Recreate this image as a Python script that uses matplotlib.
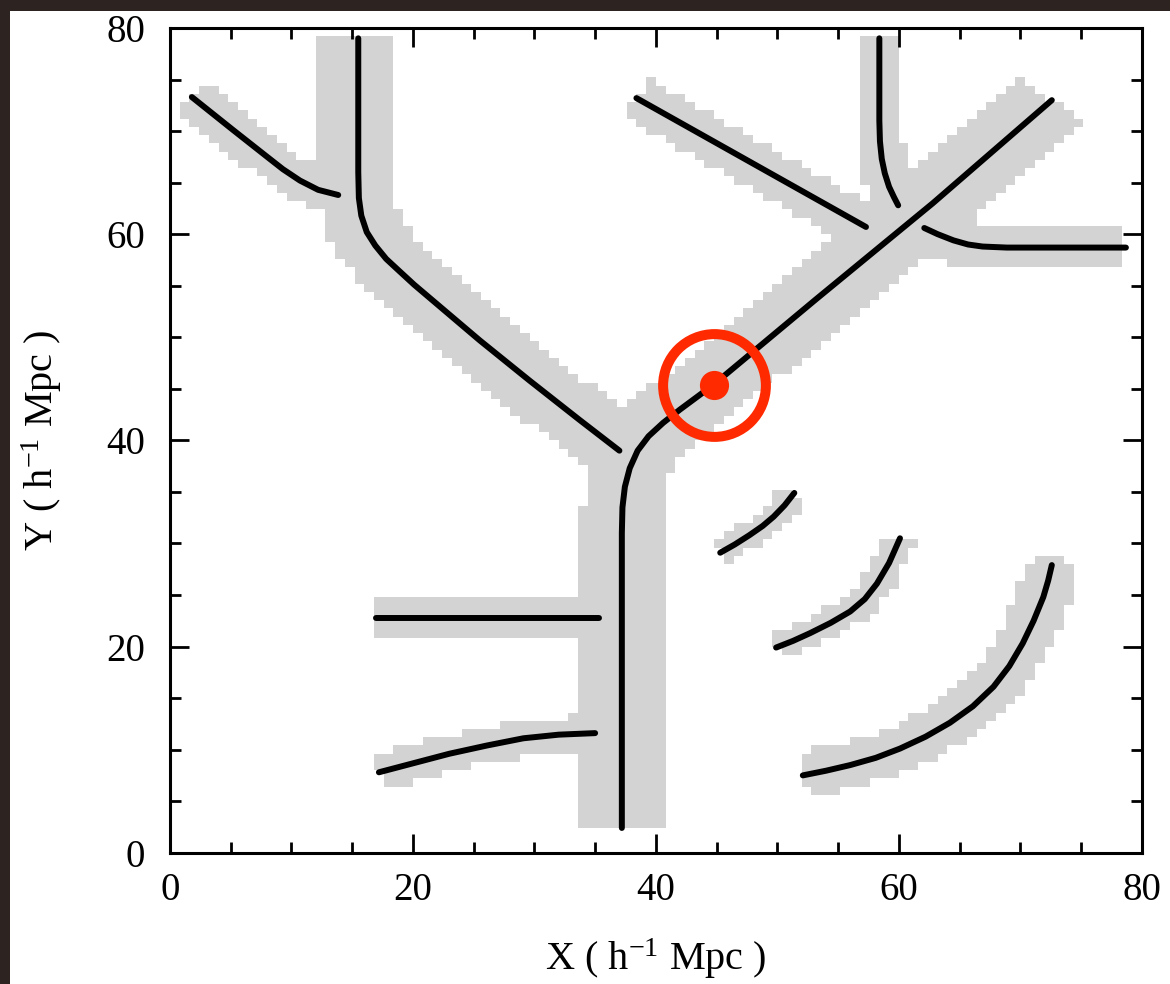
import numpy as np
import matplotlib.pyplot as plt
from matplotlib.colors import ListedColormap
from matplotlib.patches import Rectangle

# filament spines, (X, Y) in h^-1 Mpc
TOP_LEFT = [(1.8, 73.3), (3.5, 71.7), (5.2, 70.1), (6.6, 68.8), (8.0, 67.5),
            (9.3, 66.3), (10.7, 65.2), (12.2, 64.3), (13.85, 63.8)]
LEFT_BRANCH = [(15.5, 79.0), (15.5, 66.0), (15.55, 63.5), (15.75, 61.8), (16.2, 60.2),
               (16.9, 58.9), (17.8, 57.6), (18.9, 56.4), (20.1, 55.1), (21.4, 53.8),
               (25.5, 49.7), (29.6, 45.8), (33.7, 42.0), (37.0, 39.0)]
MAIN = [(37.2, 2.4), (37.2, 31.0), (37.25, 33.5), (37.45, 35.5), (37.85, 37.3),
        (38.5, 39.0), (39.4, 40.4), (40.6, 41.7), (42.0, 43.0), (44.75, 45.4),
        (53.2, 53.7), (62.8, 63.0), (72.6, 73.0)]
TOP_MID = [(38.4, 73.2), (57.3, 60.7)]
TOP_RIGHT = [(58.4, 79.0), (58.4, 71.0), (58.45, 69.0), (58.6, 67.3), (58.85, 65.9),
             (59.2, 64.6), (59.6, 63.6), (59.95, 62.8)]
RIGHT = [(62.1, 60.6), (63.2, 60.0), (64.5, 59.4), (65.7, 59.0), (66.9, 58.8),
         (68.9, 58.7), (78.7, 58.7)]
ARC_SMALL = [(45.3, 29.1), (46.5, 29.9), (47.7, 30.8), (48.8, 31.7), (49.7, 32.6),
             (50.6, 33.7), (51.4, 34.9)]
ARC_MID = [(49.9, 19.9), (51.3, 20.55), (52.7, 21.3), (54.4, 22.3), (56.0, 23.4),
           (57.2, 24.6), (58.2, 26.1), (59.2, 28.1), (60.1, 30.5)]
ARC_BIG = [(52.1, 7.5), (54.0, 7.95), (56.0, 8.5), (58.1, 9.2), (60.1, 10.1),
           (62.2, 11.25), (64.2, 12.6), (66.1, 14.2), (67.8, 16.1), (69.1, 18.1),
           (70.2, 20.3), (71.1, 22.5), (71.9, 24.8), (72.3, 26.4), (72.6, 27.9)]
HORIZ = [(17.0, 22.8), (35.3, 22.8)]
LOW_LEFT = [(17.2, 7.8), (20.1, 8.7), (23.0, 9.6), (26.1, 10.4), (29.1, 11.1),
            (32.0, 11.45), (35.0, 11.6)]

filaments = [TOP_LEFT, LEFT_BRANCH, MAIN, TOP_MID, TOP_RIGHT, RIGHT,
             ARC_SMALL, ARC_MID, ARC_BIG, HORIZ, LOW_LEFT]
# half width of the detection band around each spine
half_widths = [1.9, 3.1, 3.25, 2.1, 1.9, 2.2, 1.2, 1.3, 2.2, 1.7, 1.7]

target = (44.75, 45.4)

CELL = 0.8
BOX = 80.0


def band_mask(points, half_width, xc, yc):
    p = np.asarray(points, dtype=float)
    mask = np.zeros(xc.shape, dtype=bool)
    for (x0, y0), (x1, y1) in zip(p[:-1], p[1:]):
        dx, dy = x1 - x0, y1 - y0
        l2 = dx * dx + dy * dy
        t = ((xc - x0) * dx + (yc - y0) * dy) / l2
        d = np.abs((xc - x0) * dy - (yc - y0) * dx) / np.sqrt(l2)
        mask |= (t >= 0) & (t <= 1) & (d <= half_width)
    for x, y in p[1:-1]:
        mask |= np.hypot(xc - x, yc - y) <= half_width
    return mask


plt.rcParams["font.family"] = ["Liberation Serif", "DejaVu Serif"]
plt.rcParams["mathtext.fontset"] = "custom"
plt.rcParams["mathtext.rm"] = "Liberation Serif"
plt.rcParams["mathtext.it"] = "Liberation Serif:italic"

fig = plt.figure(figsize=(11.7, 9.84), dpi=100, facecolor="#2d2320")
fig.patches.append(Rectangle((10 / 1170, 0), 1, (984 - 11) / 984,
                             transform=fig.transFigure, facecolor="white",
                             edgecolor="none", zorder=-10))
ax = fig.add_axes([170 / 1170, 1 - 852.7 / 984, 971.7 / 1170, 824.7 / 984])

edges = np.arange(0, BOX + CELL / 2, CELL)
centers = 0.5 * (edges[:-1] + edges[1:])
xc, yc = np.meshgrid(centers, centers)
mask = np.zeros(xc.shape, dtype=bool)
for pts, hw in zip(filaments, half_widths):
    mask |= band_mask(pts, hw, xc, yc)
ax.pcolormesh(edges, edges, np.ma.masked_where(~mask, mask.astype(float)),
              cmap=ListedColormap(["#d3d3d3"]), zorder=1)

for pts in filaments:
    xs, ys = zip(*pts)
    ax.plot(xs, ys, color="black", lw=4.3, solid_capstyle="round",
            solid_joinstyle="round", zorder=2)

ax.plot(*target, "o", ms=74, mfc="none", mec="#ff2a00", mew=7.2, zorder=3)
ax.plot(*target, "o", ms=21, mfc="#ff2a00", mec="none", zorder=3)

ax.set_xlim(0, BOX)
ax.set_ylim(0, BOX)
ax.set_xticks(np.arange(0, 81, 20))
ax.set_yticks(np.arange(0, 81, 20))
ax.set_xticks(np.arange(0, 81, 5), minor=True)
ax.set_yticks(np.arange(0, 81, 5), minor=True)
ax.tick_params(which="both", direction="in", top=True, right=True,
               width=2, labelsize=28)
ax.tick_params(axis="x", pad=14)
ax.tick_params(axis="y", pad=18)
ax.tick_params(which="major", length=14)
ax.tick_params(which="minor", length=8)
for s in ax.spines.values():
    s.set_linewidth(2.2)

ax.set_xlabel("X ( h$^{-1}$ Mpc )", fontsize=29, va="baseline")
ax.set_ylabel("Y ( h$^{-1}$ Mpc )", fontsize=29, va="baseline")
ax.xaxis.set_label_coords(0.5, -0.142)
ax.yaxis.set_label_coords(-0.120, 0.5)

fig.savefig("out.png", dpi=100, facecolor=fig.get_facecolor())
